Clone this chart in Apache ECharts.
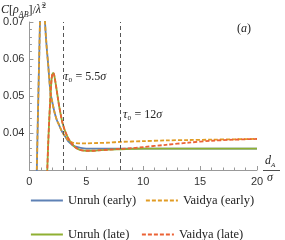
<!DOCTYPE html>
<html><head><meta charset="utf-8">
<script src="https://cdn.jsdelivr.net/npm/echarts@6/dist/echarts.min.js"></script>
<style>html,body{margin:0;padding:0;background:#fff}#c{width:285px;height:240px}</style>
</head><body><div id="c"></div>
<script>
var dEarly = [0.6,0.65,0.75,0.85,0.93,1.0,1.08,1.15,1.22,1.3,1.37,1.45,1.55,1.65,1.75,1.85,2.0,2.2,2.4,2.6,2.8,3.0,3.2,3.4,3.6,3.8,4.0,4.5,5,6,7,8,10,12,14,16,18,20];
var unruhEarly = [0.022,0.030,0.045,0.059,0.070,0.076,0.080,0.081,0.079,0.075,0.070,0.066,0.062,0.0585,0.0545,0.051,0.0485,0.0457,0.0436,0.0422,0.0408,0.0397,0.0388,0.0378,0.0372,0.0367,0.0364,0.0360,0.0358,0.0358,0.0358,0.0358,0.0358,0.0358,0.0358,0.0358,0.0358,0.0358];
var vaidyaEarly = [0.022,0.030,0.045,0.059,0.070,0.076,0.080,0.081,0.079,0.075,0.070,0.066,0.062,0.0585,0.0545,0.051,0.0485,0.0457,0.0436,0.0422,0.0408,0.0397,0.0388,0.0381,0.0377,0.0374,0.0373,0.0372,0.0372,0.0373,0.0374,0.0376,0.0378,0.0380,0.0381,0.0382,0.0383,0.0384];
var dLate = [1.5,1.57,1.65,1.75,1.85,1.95,2.05,2.12,2.2,2.3,2.4,2.5,2.6,2.75,2.9,3.1,3.3,3.5,3.75,4.0,4.25,4.5,5,5.5,6,7,8,9,10,12,14,16,18,20];
var unruhLate = [0.024,0.030,0.037,0.044,0.050,0.0545,0.0562,0.0562,0.0553,0.0535,0.0515,0.0495,0.0475,0.0450,0.0428,0.0408,0.0393,0.0381,0.0370,0.0362,0.0357,0.0354,0.0352,0.0352,0.0353,0.0355,0.0356,0.0357,0.0358,0.0358,0.0358,0.0358,0.0358,0.0358];
var vaidyaLate = [0.024,0.030,0.037,0.044,0.050,0.0545,0.0562,0.0562,0.0553,0.0535,0.0515,0.0495,0.0475,0.0450,0.0428,0.0408,0.0393,0.0381,0.0370,0.0362,0.0357,0.0354,0.0352,0.0352,0.0353,0.0355,0.0357,0.0359,0.0362,0.0368,0.0374,0.0379,0.0382,0.0384];
var xTicks = [0,5,10,15,20];
var yTicks = [0.04,0.05,0.06,0.07];
var markX = [3,8];
var seriesNames = ['Unruh (early)','Vaidya (early)','Unruh (late)','Vaidya (late)'];

function pairs(xs, ys){ return xs.map(function(x,i){return [x, ys[i]];}); }
var SERIF = 'Liberation Serif';
var SANS = 'Liberation Sans';
var C = ['#5E81B5','#E19C24','#8FB032','#EB6235'];

var chart = echarts.init(document.getElementById('c'));
function mkSeries(name, xs, ys, color, dashed, z){
  return {name:name, type:'line', data:pairs(xs,ys), showSymbol:false, symbol:'none', smooth:0.3, clip:true, z:z,
    lineStyle:{color:color, width:1.8, type: dashed?[4,2]:'solid'}, itemStyle:{color:color}};
}
var s = [
  mkSeries(seriesNames[0], dEarly, unruhEarly, C[0], false, 2),
  mkSeries(seriesNames[1], dEarly, vaidyaEarly, C[1], true, 4),
  mkSeries(seriesNames[2], dLate, unruhLate, C[2], false, 3),
  mkSeries(seriesNames[3], dLate, vaidyaLate, C[3], true, 5)
];
s[0].markLine = {silent:true, symbol:['none','none'], label:{show:false},
  lineStyle:{color:'#555', width:1, type:[4,3]},
  data: markX.map(function(v){return {xAxis:v};})};

function leg(name, left, top){
  return {data:[name], left:left, top:top, itemWidth:32, itemHeight:12, selectedMode:false,
    itemStyle:{opacity:0}, lineStyle:{width:1.8},
    textStyle:{fontFamily:SERIF, fontSize:12.5, color:'#222'}, padding:0};
}
chart.setOption({
  animation:false,
  grid:{left:27, right:28, top:22, bottom:70, containLabel:false},
  legend:[leg(seriesNames[0],30,194), leg(seriesNames[1],145,194), leg(seriesNames[2],30,228), leg(seriesNames[3],141,228)],
  xAxis:{type:'value', min:0, max:20, interval:5,
    axisLine:{lineStyle:{color:'#999', width:1}},
    axisTick:{inside:true, length:4, lineStyle:{color:'#999'}},
    minorTick:{show:true, splitNumber:5, length:2.5, lineStyle:{color:'#999'}},
    splitLine:{show:false},
    axisLabel:{fontFamily:SANS, fontSize:11, color:'#333', margin:6,
      formatter:function(v){return xTicks.indexOf(v)>=0?String(v):'';}}},
  yAxis:{type:'value', min:0.03, max:0.07, interval:0.01,
    axisLine:{show:true, lineStyle:{color:'#999', width:1}},
    axisTick:{show:true, inside:true, length:4, lineStyle:{color:'#999'}},
    minorTick:{show:true, splitNumber:5, length:2.5, lineStyle:{color:'#999'}},
    splitLine:{show:false},
    axisLabel:{fontFamily:SANS, fontSize:11, color:'#333', margin:5,
      formatter:function(v){ for(var i=0;i<yTicks.length;i++){ if(Math.abs(v-yTicks[i])<1e-6) return yTicks[i].toFixed(2);} return ''; }}},
  series:s,
  graphic:[
    {type:'text', left:1, top:2, style:{text:'{i|C}[{i|ρ}{sub|AB}]/{i|λ\u0303}{sup|2}', fontFamily:SERIF, fontSize:12, fill:'#222',
      rich:{i:{fontFamily:SERIF, fontStyle:'italic', fontSize:12, verticalAlign:'bottom', padding:[0,0,3,0]},
            sub:{fontFamily:SERIF, fontStyle:'italic', fontSize:8, verticalAlign:'bottom', padding:[0,0,0,0]},
            sup:{fontFamily:SERIF, fontSize:8, verticalAlign:'bottom', padding:[0,0,9,1]}}}},
    {type:'text', left:237, top:23, style:{text:'({i|a})', fontFamily:SERIF, fontSize:12, fill:'#222', rich:{i:{fontFamily:SERIF, fontStyle:'italic', fontSize:12}}}},
    {type:'text', left:64, top:71, style:{text:'{i|τ}₀ = 5.5{i|σ}', fontFamily:SERIF, fontSize:12, fill:'#222', rich:{i:{fontFamily:SERIF, fontStyle:'italic', fontSize:12}}}},
    {type:'text', left:123, top:109, style:{text:'{i|τ}₀ = 12{i|σ}', fontFamily:SERIF, fontSize:12, fill:'#222', rich:{i:{fontFamily:SERIF, fontStyle:'italic', fontSize:12}}}},
    {type:'text', left:265, top:155, style:{text:'{i|d}{sub|A}', fontFamily:SERIF, fontSize:12, fill:'#222',
      rich:{i:{fontFamily:SERIF, fontStyle:'italic', fontSize:12, verticalAlign:'bottom', padding:[0,0,2,0]}, sub:{fontFamily:SERIF, fontStyle:'italic', fontSize:7, verticalAlign:'bottom'}}}},
    {type:'line', shape:{x1:263, y1:170.5, x2:280, y2:170.5}, style:{stroke:'#222', lineWidth:0.8}},
    {type:'text', left:267, top:172, style:{text:'σ', fontFamily:SERIF, fontStyle:'italic', fontSize:12, fill:'#222'}}
  ]
});
</script></body></html>
